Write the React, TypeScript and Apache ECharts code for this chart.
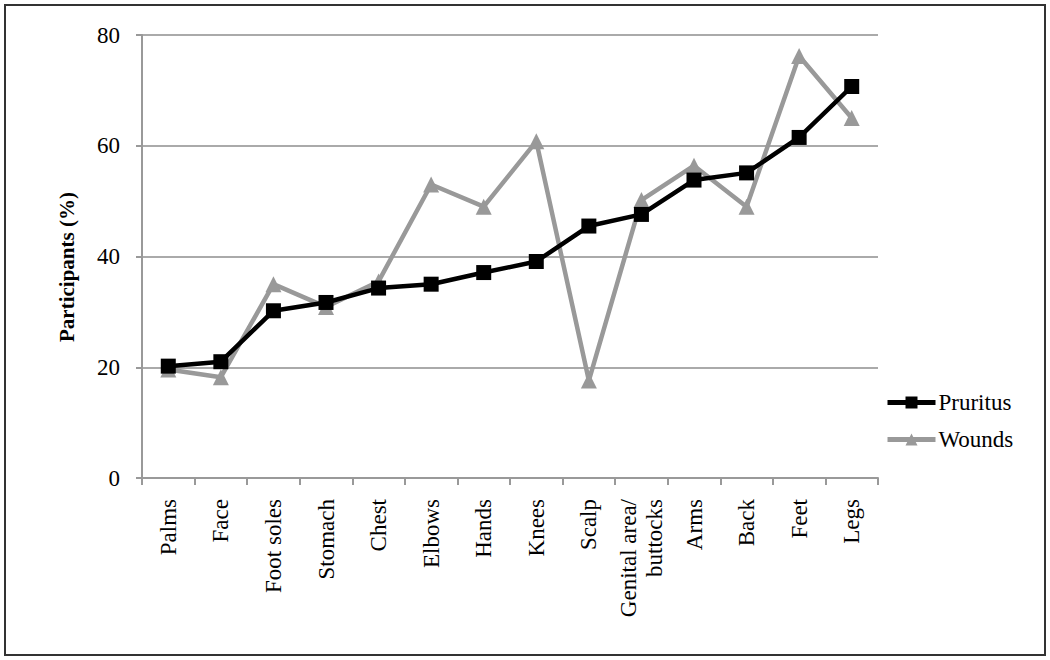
import React, { useEffect, useRef } from "react";
import * as echarts from "echarts";

const categories = [
  "Palms", "Face", "Foot soles", "Stomach", "Chest", "Elbows", "Hands",
  "Knees", "Scalp", "Genital area/\nbuttocks", "Arms", "Back", "Feet", "Legs",
];
const pruritus = [20.2, 21.0, 30.2, 31.7, 34.3, 35.0, 37.1, 39.1, 45.5, 47.6, 53.8, 55.1, 61.5, 70.7];
const wounds = [19.6, 18.2, 35.0, 30.9, 35.5, 53.0, 49.0, 60.8, 17.6, 50.2, 56.4, 49.0, 76.2, 65.0];
const yTicks = { min: 0, max: 80, interval: 20 };
const yTitle = "Participants (%)";

const FONT = "'Liberation Serif', 'Times New Roman', serif";

export default function App() {
  const ref = useRef<HTMLDivElement>(null);
  useEffect(() => {
    document.body.style.margin = "0";
    const chart = echarts.init(ref.current!, null, { renderer: "svg" });
    chart.setOption({
      animation: false,
      backgroundColor: "#fff",
      textStyle: { fontFamily: FONT, color: "#000" },
      graphic: [
        {
          type: "rect",
          shape: { x: 5, y: 5, width: 1040, height: 650 },
          style: { fill: "none", stroke: "#333", lineWidth: 2 },
          silent: true,
        },
        {
          type: "text",
          x: 67,
          y: 267,
          rotation: Math.PI / 2,
          style: {
            text: yTitle,
            fontFamily: FONT,
            fontSize: 21,
            fontWeight: "bold",
            fill: "#000",
            align: "center",
            verticalAlign: "middle",
          },
          silent: true,
        },
      ],
      grid: { left: 142, right: 172, top: 35, bottom: 182, containLabel: false },
      legend: {
        orient: "vertical",
        left: 880,
        top: 386,
        itemWidth: 48,
        itemHeight: 15,
        itemGap: 14,
        lineStyle: { width: 5 },
        textStyle: { fontFamily: FONT, fontSize: 23, color: "#000", padding: [0, 0, 0, -2] },
        data: ["Pruritus", "Wounds"],
      },
      xAxis: {
        type: "category",
        data: categories,
        boundaryGap: true,
        axisLine: { lineStyle: { color: "#999", width: 2 } },
        axisTick: { show: true, length: 7, lineStyle: { color: "#999", width: 2 } },
        axisLabel: {
          rotate: 90,
          margin: 21,
          fontFamily: FONT,
          fontSize: 23,
          color: "#000",
          interval: 0,
          lineHeight: 26,
        },
      },
      yAxis: {
        type: "value",
        min: yTicks.min,
        max: yTicks.max,
        interval: yTicks.interval,
        axisLine: { show: true, lineStyle: { color: "#999", width: 2 } },
        axisTick: { show: true, length: 6, lineStyle: { color: "#999", width: 2 } },
        axisLabel: { margin: 22, fontFamily: FONT, fontSize: 23, color: "#000" },
        splitLine: { show: true, lineStyle: { color: "#aaa", width: 2 } },
      },
      series: [
        {
          name: "Pruritus",
          type: "line",
          data: pruritus,
          symbol: "rect",
          symbolSize: 15,
          lineStyle: { color: "#000", width: 4.5 },
          itemStyle: { color: "#000" },
          z: 3,
        },
        {
          name: "Wounds",
          type: "line",
          data: wounds,
          symbol: "triangle",
          symbolSize: 16,
          lineStyle: { color: "#999", width: 4.5 },
          itemStyle: { color: "#999" },
          z: 2,
        },
      ],
    });
    return () => chart.dispose();
  }, []);
  return <div ref={ref} style={{ width: 1050, height: 660 }} />;
}
